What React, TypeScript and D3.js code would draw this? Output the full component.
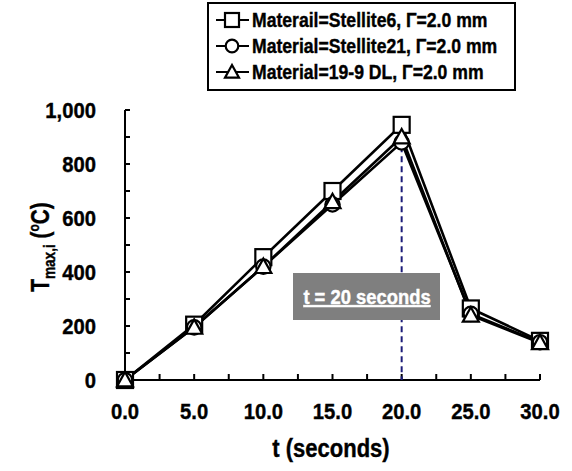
import React from 'react';
import * as d3 from 'd3';

// time points (s)
const times = [0, 5, 10, 15, 20, 25, 30];

// peak temperatures per material
const stellite6 = [0, 205, 455, 700, 945, 265, 145];
const stellite21 = [0, 195, 420, 650, 880, 245, 140];
const dl199 = [0, 195, 420, 660, 900, 240, 138];

const seriesNames = [
  'Materail=Stellite6, Γ=2.0 mm',
  'Material=Stellite21, Γ=2.0 mm',
  'Material=19-9 DL, Γ=2.0 mm',
];
const markers = ['square', 'circle', 'triangle'];

const xTickLabels = ['0.0', '5.0', '10.0', '15.0', '20.0', '25.0', '30.0'];
const yTickValues = [0, 200, 400, 600, 800, 1000];
const annotationTime = 20;

const FONT = "'Liberation Sans', Arial, sans-serif";

// bold text, drawn at (x, y) and squeezed horizontally to look narrow
const NText = ({ x, y, size, q = 0.9, anchor = 'start', fill = 'black', children, underline = false }: any) => (
  <g transform={`translate(${x},${y}) scale(${q},1)`}>
    <text
      textAnchor={anchor}
      fontSize={size}
      fontWeight="bold"
      fill={fill}
      stroke={fill}
      strokeWidth={0.4}
      textDecoration={underline ? 'underline' : undefined}
      dy="0.35em"
    >
      {children}
    </text>
  </g>
);

const Marker = ({ type, x, y, s = 8 }: { type: string; x: number; y: number; s?: number }) => {
  if (type === 'square')
    return <rect x={x - s} y={y - s} width={2 * s} height={2 * s} fill="white" stroke="black" strokeWidth={2.2} />;
  if (type === 'circle')
    return <circle cx={x} cy={y} r={s * 0.9} fill="white" stroke="black" strokeWidth={2.2} />;
  return (
    <path
      d={`M${x},${y - s}L${x + s},${y + s * 0.8}L${x - s},${y + s * 0.8}Z`}
      fill="white"
      stroke="black"
      strokeWidth={2.2}
    />
  );
};

export default function App() {
  const width = 572;
  const height = 471;

  const x = d3.scaleLinear().domain([0, 30]).range([125, 540]);
  const y = d3.scaleLinear().domain([0, 1000]).range([380, 110]);

  const data = [stellite6, stellite21, dl199];
  const line = d3
    .line<number>()
    .x((_, i) => x(times[i]))
    .y((d) => y(d));

  const minorY = d3.range(0, 1001, 100);
  const minorX = d3.range(0, 30.01, 2.5);

  return (
    <svg width={width} height={height} style={{ position: 'absolute', left: 0, top: 0 }} fontFamily={FONT}>
      <rect width={width} height={height} fill="white" />

      {/* axes */}
      <line x1={x(0)} x2={x(0)} y1={y(0)} y2={y(1000)} stroke="black" strokeWidth={2} />
      <line x1={x(0)} x2={x(30)} y1={y(0)} y2={y(0)} stroke="black" strokeWidth={2} />
      {minorY.map((v) => (
        <line key={'yt' + v} x1={x(0)} x2={x(0) + 5} y1={y(v)} y2={y(v)} stroke="black" strokeWidth={2} />
      ))}
      {minorX.map((v) => (
        <line key={'xt' + v} x1={x(v)} x2={x(v)} y1={y(0)} y2={y(0) - 6} stroke="black" strokeWidth={2} />
      ))}

      {yTickValues.map((v) => (
        <NText key={'yl' + v} x={x(0) - 29} y={y(v)} size={22} q={0.92} anchor="end">
          {d3.format(',')(v)}
        </NText>
      ))}
      {times.map((t, i) => (
        <NText key={'xl' + t} x={x(t)} y={y(0) + 31} size={22} q={0.92} anchor="middle">
          {xTickLabels[i]}
        </NText>
      ))}

      <NText x={331} y={448} size={25} q={0.88} anchor="middle">
        t (seconds)
      </NText>
      <g transform="translate(40,247) rotate(-90) scale(0.8,1)">
        <text textAnchor="middle" fontSize={26} fontWeight="bold" stroke="black" strokeWidth={0.4} dy="0.35em">
          T
          <tspan fontSize={17} dy={6}>max,i</tspan>
          <tspan dy={-6}> (</tspan>
          <tspan fontSize={15} dy={-10}>o</tspan>
          <tspan dy={10}>C)</tspan>
        </text>
      </g>

      {/* 20 s marker line */}
      <line
        x1={x(annotationTime)}
        x2={x(annotationTime)}
        y1={y(940)}
        y2={y(0)}
        stroke="#1c1c78"
        strokeWidth={2}
        strokeDasharray="6,4"
      />

      {/* series */}
      {data.map((s, k) => (
        <path key={'l' + k} d={line(s) || ''} fill="none" stroke="black" strokeWidth={2.6} />
      ))}
      {data.map((s, k) =>
        s.map((v, i) => <Marker key={'m' + k + '-' + i} type={markers[k]} x={x(times[i])} y={y(v)} />)
      )}

      {/* annotation */}
      <rect x={293} y={273} width={147} height={47} fill="#7f7f7f" />
      <NText x={367} y={297} size={20} q={0.92} anchor="middle" fill="white" underline>
        t = 20 seconds
      </NText>

      {/* legend */}
      <rect x={208} y={3} width={307} height={87} fill="white" stroke="black" strokeWidth={2} />
      {seriesNames.map((name, k) => {
        const ly = 20 + k * 26;
        return (
          <g key={'lg' + k}>
            <line x1={216} x2={249} y1={ly} y2={ly} stroke="black" strokeWidth={2} />
            <Marker type={markers[k]} x={232} y={ly} s={7} />
            <NText x={252} y={ly} size={20} q={0.88}>
              {name}
            </NText>
          </g>
        );
      })}
    </svg>
  );
}
